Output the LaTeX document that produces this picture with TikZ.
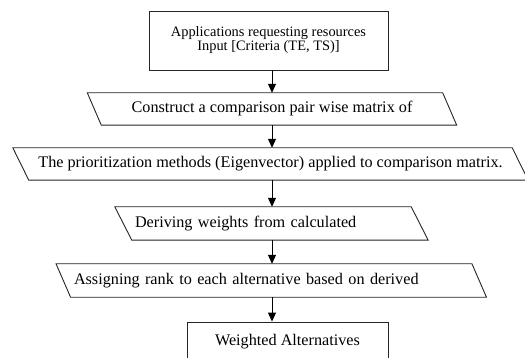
\documentclass[tikz,border=0pt]{standalone}
\usepackage{fontspec}
\setmainfont{Liberation Serif}
\usetikzlibrary{arrows.meta}
\begin{document}
\begin{tikzpicture}[x=1pt,y=-1pt]
\tikzset{
  frame/.style={draw=black!85, line width=0.9pt},
  bigtext/.style={font=\fontsize{16.2}{17}\selectfont},
  smalltext/.style={font=\fontsize{14.4}{15}\selectfont},
  boxnode/.style={frame, rectangle, inner sep=0pt, align=center},
  paranode/.style={rectangle, inner ysep=0pt, bigtext},
  arr/.style={draw=black, line width=1pt, -{Triangle[width=8pt,length=9pt]}}
}
\useasboundingbox (0,0) rectangle (525,358);
\clip (0,0) rectangle (525,358);
\fill[white] (0,0) rectangle (525,358);

\coordinate (ax) at (272,0);

% top box
\node[boxnode, smalltext, minimum width=239pt, minimum height=59pt] (b1) at (268.5,40.5)
  {Applications requesting resources\\[-1pt] Input [Criteria (TE, TS)]};

% parallelograms (text nodes; outlines drawn from their anchors)
\node[paranode, minimum width=355pt, minimum height=32pt, inner xsep=0pt, align=center] (p2) at (272,109)
  {Construct a comparison pair wise matrix of};
\node[paranode, minimum width=499pt, minimum height=32pt, inner xsep=0pt, align=center] (p3) at (270.5,164)
  {The prioritization methods (Eigenvector) applied to comparison matrix.};
\node[paranode, minimum height=33pt, inner xsep=11.5pt, text width=273pt, align=left] (p4) at (271.5,223.5)
  {Deriving weights from calculated};
\node[paranode, minimum height=33pt, inner xsep=10.5pt, text width=394.5pt, align=left] (p5) at (271.25,280.5)
  {Assigning rank to each alternative based on derived};

\foreach \n/\s in {p2/7, p3/8, p4/8.5, p5/7.25}{
  \draw[frame] ([xshift=-\s pt]\n.north west) -- ([xshift=-\s pt]\n.north east)
    -- ([xshift=\s pt]\n.south east) -- ([xshift=\s pt]\n.south west) -- cycle;
}

% bottom box
\node[boxnode, bigtext, minimum width=201pt, minimum height=40pt] (b6) at (287.5,342)
  {Weighted Alternatives};

% connectors
\draw[arr] (b1.south -| ax) -- (p2.north -| ax);
\draw[arr] (p2.south -| ax) -- (p3.north -| ax);
\draw[arr] (p3.south -| ax) -- (p4.north -| ax);
\draw[arr] (p4.south -| ax) -- (p5.north -| ax);
\draw[arr] (p5.south -| ax) -- (b6.north -| ax);
\end{tikzpicture}
\end{document}
